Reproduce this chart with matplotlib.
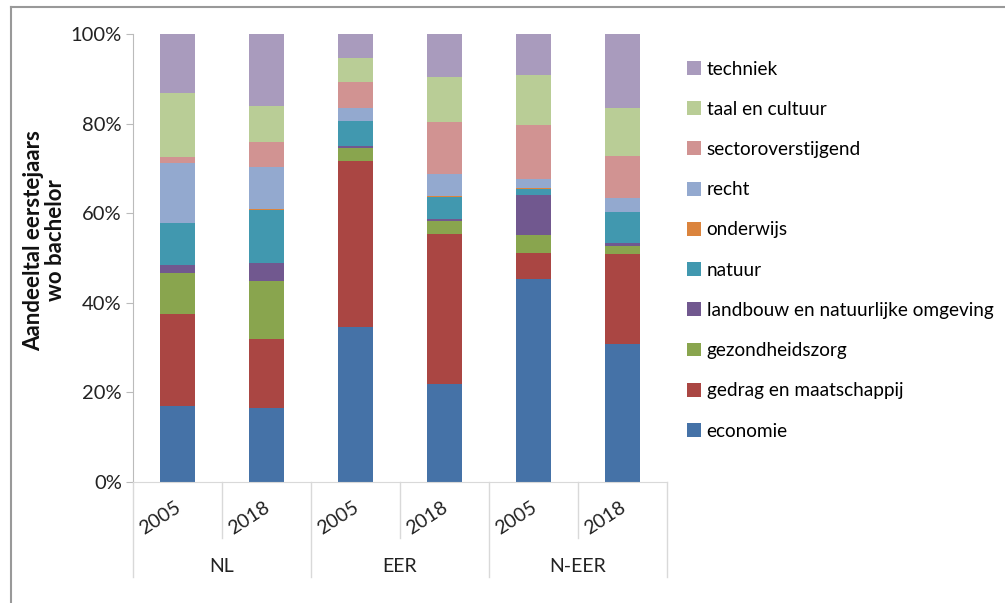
import numpy as np
import matplotlib
matplotlib.use("Agg")
import matplotlib.pyplot as plt
from matplotlib.lines import Line2D
from matplotlib.patches import Patch

plt.rcParams['font.family'] = ['Lato', 'DejaVu Sans']

groups = ['NL', 'EER', 'N-EER']
years = ['2005', '2018', '2005', '2018', '2005', '2018']

# shares in %, per bar: NL 2005, NL 2018, EER 2005, EER 2018, N-EER 2005, N-EER 2018
economie = [16.9, 16.6, 34.5, 21.8, 45.3, 30.9]
gedrag = [20.6, 15.3, 37.2, 33.6, 5.9, 20.0]
gezondheidszorg = [9.1, 12.9, 2.9, 2.8, 4.0, 1.7]
landbouw = [1.9, 4.0, 0.3, 0.6, 8.8, 0.7]
onderwijs = [0.1, 0.2, 0.1, 0.1, 0.1, 0.1]
natuur = [9.3, 11.9, 5.6, 4.9, 1.5, 6.9]
recht = [13.3, 9.5, 2.8, 5.0, 2.0, 3.0]
sectoroverstijgend = [1.3, 5.5, 5.9, 11.6, 12.0, 9.5]
taal = [14.3, 8.1, 5.3, 10.1, 11.3, 10.7]
techniek = [13.2, 16.0, 5.4, 9.5, 9.1, 16.5]

series = [
    ('economie', economie, '#4572A7'),
    ('gedrag en maatschappij', gedrag, '#AA4643'),
    ('gezondheidszorg', gezondheidszorg, '#89A54E'),
    ('landbouw en natuurlijke omgeving', landbouw, '#71588F'),
    ('natuur', natuur, '#4198AF'),
    ('onderwijs', onderwijs, '#DB843D'),
    ('recht', recht, '#93A9CF'),
    ('sectoroverstijgend', sectoroverstijgend, '#D19392'),
    ('taal en cultuur', taal, '#B9CD96'),
    ('techniek', techniek, '#A99BBD'),
]

fig = plt.figure(figsize=(10.05, 6.03), dpi=100)
ax = fig.add_axes([133/1005, 1-482/603, 534/1005, 448/603])

x = np.arange(len(years))
bottom = np.zeros(len(years))
for name, vals, col in series:
    vals = np.array(vals)
    ax.bar(x, vals, 0.4, bottom=bottom, color=col, edgecolor='none', label=name)
    bottom += vals

ax.set_xlim(-0.5, len(years) - 0.5)
ax.set_ylim(0, 100)
ax.set_yticks(np.arange(0, 101, 20))
ax.set_yticklabels([f'{v}%' for v in range(0, 101, 20)], fontsize=14.5, color='#222222')
ax.tick_params(axis='y', length=5, color='#BBBBBB', pad=3)
ax.set_xticks([])
for s in ['top', 'right']:
    ax.spines[s].set_visible(False)
ax.spines['left'].set_color('#BBBBBB')
ax.spines['bottom'].set_color('#D9D9D9')

trans = ax.get_xaxis_transform()
# separators below the axis
for xs in [0.5, 2.5, 4.5]:
    ax.add_line(Line2D([xs, xs], [0, -56/448], transform=trans, color='#D9D9D9', lw=1, clip_on=False))
for xs in [-0.5, 1.5, 3.5, 5.5]:
    ax.add_line(Line2D([xs, xs], [0, -95/448], transform=trans, color='#D9D9D9', lw=1, clip_on=False))

for xi, yr in zip(x, years):
    ax.text(xi - 0.19, -36/448, yr, transform=trans, rotation=33, ha='center', va='center',
            fontsize=14, color='#222222')
for gi, g in enumerate(groups):
    ax.text(2*gi + 0.5, -85/448, g, transform=trans, ha='center', va='center',
            fontsize=14, color='#222222')

ax.text(-0.165, 0.54, 'Aandeeltal eerstejaars\nwo bachelor', transform=ax.transAxes,
        rotation=90, ha='center', va='center', fontsize=16, fontweight='bold',
        linespacing=1.05, color='#111111')

handles = [Patch(facecolor=col, edgecolor='none', label=name) for name, vals, col in series][::-1]
fig.legend(handles=handles, loc='upper left', bbox_to_anchor=(679/1005, 1-53/603),
           frameon=False, fontsize=13.7, handlelength=0.75, handleheight=0.75,
           handletextpad=0.3, labelspacing=1.22, borderaxespad=0)

# frame lines of the original chart area
fig.add_artist(Line2D([11/1005, 11/1005], [0, 1-7/603], transform=fig.transFigure, color='#999999', lw=1.5))
fig.add_artist(Line2D([11/1005, 1], [1-7/603, 1-7/603], transform=fig.transFigure, color='#999999', lw=1.5))

fig.savefig('out.png', dpi=100)
